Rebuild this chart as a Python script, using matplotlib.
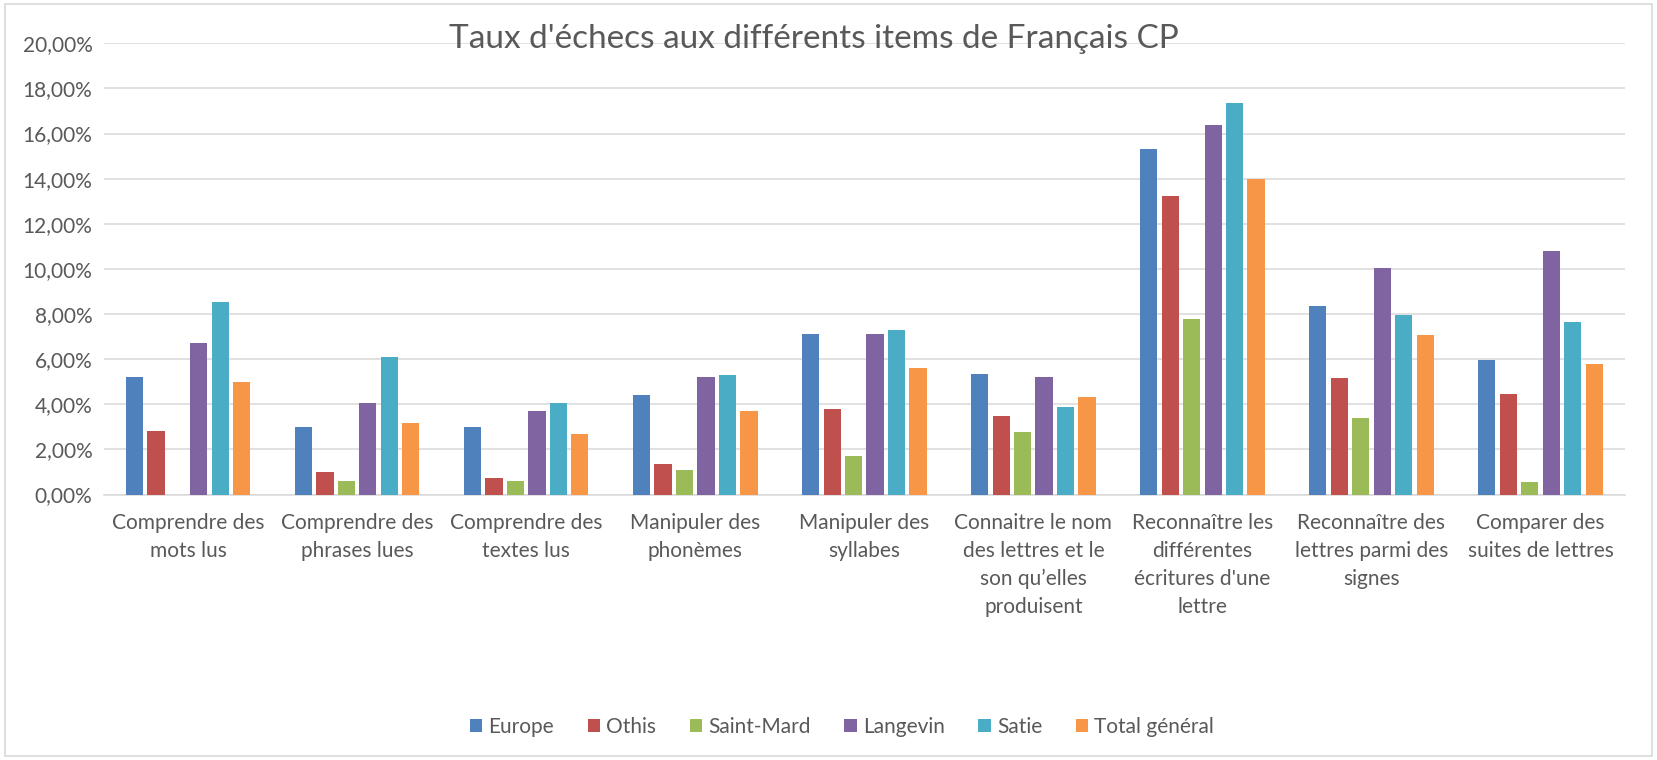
import matplotlib
matplotlib.use("Agg")
import matplotlib.pyplot as plt
from matplotlib.patches import Rectangle
from matplotlib.ticker import FuncFormatter
import numpy as np

categories = [
    "Comprendre des\nmots lus",
    "Comprendre des\nphrases lues",
    "Comprendre des\ntextes lus",
    "Manipuler des\nphonèmes",
    "Manipuler des\nsyllabes",
    "Connaitre le nom\ndes lettres et le\nson qu’elles\nproduisent",
    "Reconnaître les\ndifférentes\nécritures d'une\nlettre",
    "Reconnaître des\nlettres parmi des\nsignes",
    "Comparer des\nsuites de lettres",
]
series_names = ["Europe", "Othis", "Saint-Mard", "Langevin", "Satie", "Total général"]
europe = [0.052, 0.030, 0.030, 0.044, 0.071, 0.0536, 0.153, 0.0837, 0.0596]
othis = [0.028, 0.010, 0.0071, 0.0137, 0.0378, 0.035, 0.1325, 0.0518, 0.0447]
saint_mard = [0.0, 0.0059, 0.0059, 0.011, 0.0171, 0.0277, 0.0777, 0.0339, 0.0056]
langevin = [0.0671, 0.0407, 0.0369, 0.0519, 0.0711, 0.0519, 0.164, 0.1006, 0.108]
satie = [0.0852, 0.0609, 0.0407, 0.0531, 0.0727, 0.0389, 0.1737, 0.0797, 0.0765]
total = [0.0498, 0.0319, 0.0268, 0.0368, 0.0559, 0.043, 0.140, 0.0709, 0.058]
colors = ["#4F81BD", "#C0504D", "#9BBB59", "#8064A2", "#4BACC6", "#F79646"]

data = [europe, othis, saint_mard, langevin, satie, total]

plt.rcParams['font.family'] = ['Lato', 'DejaVu Sans']
text_color = "#595959"

fig = plt.figure(figsize=(16.57, 7.6), dpi=100)
W, H = 1657, 760
ax = fig.add_axes([103.6 / W, 1 - 494.5 / H, (1625 - 103.6) / W, (494.5 - 43.3) / H])

x = np.arange(len(categories))
slot = 0.127
for i, (vals, name, c) in enumerate(zip(data, series_names, colors)):
    offs = (i - 2.5) * slot
    ax.bar(x + offs, vals, width=slot * 0.8, color=c, label=name, zorder=3)

ax.set_xlim(-0.5, len(categories) - 0.5)
ax.set_ylim(0, 0.20)
ax.set_yticks(np.arange(0, 0.2001, 0.02))
ax.yaxis.set_major_formatter(FuncFormatter(lambda v, p: f"{v*100:.2f}%".replace(".", ",")))
ax.grid(axis='y', color="#D9D9D9", linewidth=1.1, zorder=0)
ax.set_axisbelow(True)
for s in ["top", "right", "left"]:
    ax.spines[s].set_visible(False)
ax.spines["bottom"].set_color("#D9D9D9")
ax.spines["bottom"].set_linewidth(1.1)
ax.tick_params(axis='both', length=0, labelsize=15, colors=text_color, pad=8)
ax.tick_params(axis='x', pad=13)
ax.set_xticks(x)
ax.set_xticklabels(categories, linespacing=1.5, va='top')

fig.text(814 / W, 1 - 39 / H, "Taux d'échecs aux différents items de Français CP",
         ha='center', va='center', fontsize=24, color=text_color)

leg = fig.legend(loc='center', bbox_to_anchor=(842 / W, 1 - 727 / H), ncol=6, frameon=False,
                 fontsize=15, handlelength=0.6, handleheight=0.6, handletextpad=0.3,
                 columnspacing=1.6, labelcolor=text_color)

fig.patches.append(Rectangle((5 / W, 4 / H), (1652 - 5) / W, (756 - 4) / H, transform=fig.transFigure,
                             fill=False, edgecolor="#D9D9D9", linewidth=1.2))

fig.savefig("out.png", dpi=100, facecolor="white")
